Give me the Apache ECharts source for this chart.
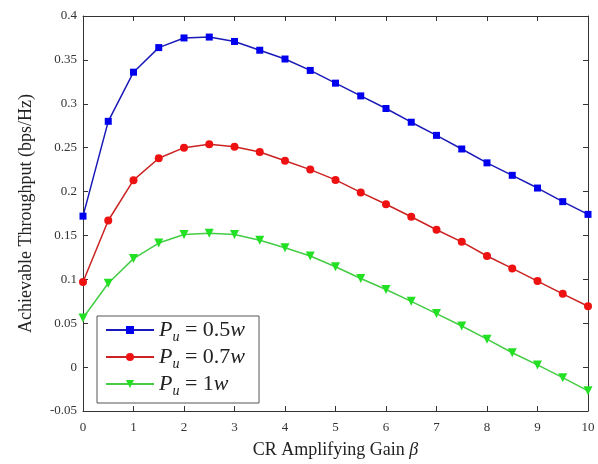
<!DOCTYPE html>
<html>
<head>
<meta charset="utf-8">
<script src="https://cdn.jsdelivr.net/npm/echarts@6/dist/echarts.min.js"></script>
<style>
  html, body { margin: 0; padding: 0; background: #fff; }
  #chart { width: 598px; height: 464px; }
</style>
</head>
<body>
<div id="chart"></div>
<script>
// gain values on the x axis
const beta = [0, 0.5, 1, 1.5, 2, 2.5, 3, 3.5, 4, 4.5, 5, 5.5, 6, 6.5, 7, 7.5, 8, 8.5, 9, 9.5, 10]

// throughput
const pu05 = [0.172, 0.280, 0.336, 0.364, 0.375, 0.376, 0.371, 0.361, 0.351, 0.338, 0.3235,
  0.309, 0.2946, 0.279, 0.264, 0.2485, 0.2327, 0.2185, 0.204, 0.1885, 0.174]
const pu07 = [0.097, 0.167, 0.213, 0.238, 0.250, 0.254, 0.251, 0.245, 0.235, 0.225, 0.2133,
  0.199, 0.1855, 0.1713, 0.1565, 0.1427, 0.1266, 0.1124, 0.098, 0.0835, 0.0693]
const pu1 = [0.056, 0.0955, 0.1236, 0.1413, 0.151, 0.1525, 0.151, 0.1446, 0.136, 0.1266, 0.1143,
  0.101, 0.0884, 0.0749, 0.061, 0.0468, 0.0318, 0.0164, 0.0025, -0.012, -0.027]

const xTicks = [0, 1, 2, 3, 4, 5, 6, 7, 8, 9, 10]
const yTicks = [-0.05, 0, 0.05, 0.1, 0.15, 0.2, 0.25, 0.3, 0.35, 0.4]

const legendParts = {
  'Pu = 0.5w': '0.5',
  'Pu = 0.7w': '0.7',
  'Pu = 1w': '1'
}

const serif = 'Liberation Serif'
const chart = echarts.init(document.getElementById('chart'))

const pairs = (ys) => beta.map((b, i) => [b, ys[i]])

const tickAxis = {
  axisLine: { show: true, onZero: false, lineStyle: { color: '#333', width: 1 } },
  axisTick: { show: true, inside: true, length: 5, lineStyle: { color: '#333' } },
  splitLine: { show: false }
}

chart.setOption({
  animation: false,
  backgroundColor: '#fff',
  grid: { left: 83, right: 10, top: 16, bottom: 50 },
  xAxis: [
    {
      ...tickAxis,
      type: 'value',
      min: 0, max: 10, interval: 1,
      name: '{t|CR Amplifying Gain }{b|β}',
      nameLocation: 'middle',
      nameGap: 30,
      nameTextStyle: {
        rich: {
          t: { fontFamily: serif, fontSize: 18, color: '#222' },
          b: { fontFamily: serif, fontSize: 18, fontStyle: 'italic', color: '#222' }
        }
      },
      axisLabel: {
        fontFamily: serif, fontSize: 13, color: '#333', margin: 10,
        formatter: v => xTicks.includes(v) ? String(v) : ''
      }
    },
    {
      ...tickAxis,
      type: 'value', position: 'top',
      min: 0, max: 10, interval: 1,
      axisLabel: { show: false }
    }
  ],
  yAxis: [
    {
      ...tickAxis,
      type: 'value',
      min: -0.05, max: 0.4, interval: 0.05,
      name: 'Achievable Throughput (bps/Hz)',
      nameLocation: 'middle',
      nameGap: 48,
      nameTextStyle: { fontFamily: serif, fontSize: 18, color: '#222' },
      axisLabel: {
        fontFamily: serif, fontSize: 13, color: '#333', margin: 6,
        formatter: v => {
          const r = Math.round(v * 100) / 100
          return yTicks.some(t => Math.abs(t - r) < 1e-9) ? String(r) : ''
        }
      }
    },
    {
      ...tickAxis,
      type: 'value', position: 'right',
      min: -0.05, max: 0.4, interval: 0.05,
      axisLabel: { show: false }
    }
  ],
  legend: {
    orient: 'vertical',
    left: 97, top: 316,
    itemWidth: 48, itemHeight: 10,
    itemGap: 2,
    padding: [3, 14, 5, 8],
    backgroundColor: '#fff',
    borderColor: '#555',
    borderWidth: 1,
    borderRadius: 0,
    formatter: name => '{i|P}{s|u}{n| = ' + legendParts[name] + '}{i|w}',
    textStyle: {
      rich: {
        i: { fontFamily: serif, fontSize: 22, fontStyle: 'italic', color: '#222' },
        s: { fontFamily: serif, fontSize: 14, fontStyle: 'italic', color: '#222', padding: [14, 0, 0, 0] },
        n: { fontFamily: serif, fontSize: 22, color: '#222' }
      }
    },
    data: Object.keys(legendParts)
  },
  series: [
    {
      name: 'Pu = 0.5w',
      type: 'line',
      data: pairs(pu05),
      symbol: 'rect',
      symbolSize: 7,
      itemStyle: { color: '#0000ee' },
      lineStyle: { color: '#1a1ab8', width: 1.5 }
    },
    {
      name: 'Pu = 0.7w',
      type: 'line',
      data: pairs(pu07),
      symbol: 'circle',
      symbolSize: 8,
      itemStyle: { color: '#ee1111' },
      lineStyle: { color: '#cc2222', width: 1.5 }
    },
    {
      name: 'Pu = 1w',
      type: 'line',
      data: pairs(pu1),
      symbol: 'triangle',
      symbolRotate: 180,
      symbolSize: 9,
      itemStyle: { color: '#22e022' },
      lineStyle: { color: '#44cc44', width: 1.5 }
    }
  ]
})
</script>
</body>
</html>
